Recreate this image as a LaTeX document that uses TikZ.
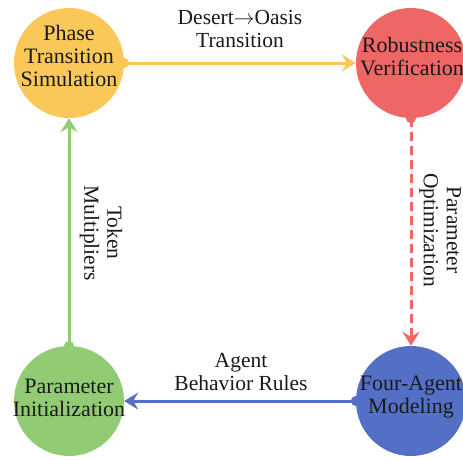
\documentclass[tikz,border=0pt]{standalone}
\usepackage{fontspec}
\setmainfont{Liberation Serif}
\usetikzlibrary{arrows.meta}
\definecolor{cyel}{HTML}{FAC858}
\definecolor{cred}{HTML}{EE6666}
\definecolor{cgrn}{HTML}{91CC75}
\definecolor{cblu}{HTML}{5470C6}
\definecolor{ctxt}{HTML}{1A1A1A}
\tikzset{
  ball/.style={circle, minimum size=110pt, inner sep=0pt, draw=none},
  txt/.style={align=center, inner sep=0pt, text=ctxt, font=\fontsize{22}{23}\selectfont},
  lbl/.style={align=center, inner sep=0pt, text=ctxt, font=\fontsize{21.5}{23}\selectfont},
  conn/.style={line width=3pt, -{Stealth[length=14pt,width=17pt,inset=5pt]}},
}
\begin{document}
\begin{tikzpicture}[x=1pt,y=-1pt]
\useasboundingbox (0,0) rectangle (463,459);
% circles
\node[ball, fill=cyel] (Y) at (69,63) {};
\node[ball, fill=cred] (R) at (411,63) {};
\node[ball, fill=cgrn] (G) at (69,401) {};
\node[ball, fill=cblu] (B) at (411,401) {};
% circle texts
\node[txt] (Yt) at (69,56) {Phase\\Transition\\Simulation};
\node[txt] (Rt) at (412,57) {Robustness\\Verification};
\node[txt] (Gt) at (69,398) {Parameter\\Initialization};
\node[txt] (Bt) at (411,397) {Four-Agent\\Modeling};
% connectors
\draw[conn, draw=cyel, fill=cyel] (Y.east) -- (R.west);
\fill[cyel] (Y.east) circle (5pt);
\draw[conn, draw=cred, fill=cred, dash pattern=on 9pt off 5pt] (R.south) -- (B.north);
\fill[cred] (R.south) circle (5pt);
\draw[conn, draw=cblu, fill=cblu] (B.west) -- (G.east);
\fill[cblu] (B.west) circle (5pt);
\draw[conn, draw=cgrn, fill=cgrn] (G.north) -- (Y.south);
\fill[cgrn] (G.north) circle (5pt);
% edge labels
\node[lbl] (L1) at (240,29) {Desert$\rightarrow$Oasis\\Transition};
\node[lbl] (L2) at (241,372) {Agent\\Behavior Rules};
\node[lbl, rotate=-90] (L3) at (101,233) {Token\\Multipliers};
\node[lbl, rotate=-90] (L4) at (440,230) {Parameter\\Optimization};
\end{tikzpicture}
\end{document}
